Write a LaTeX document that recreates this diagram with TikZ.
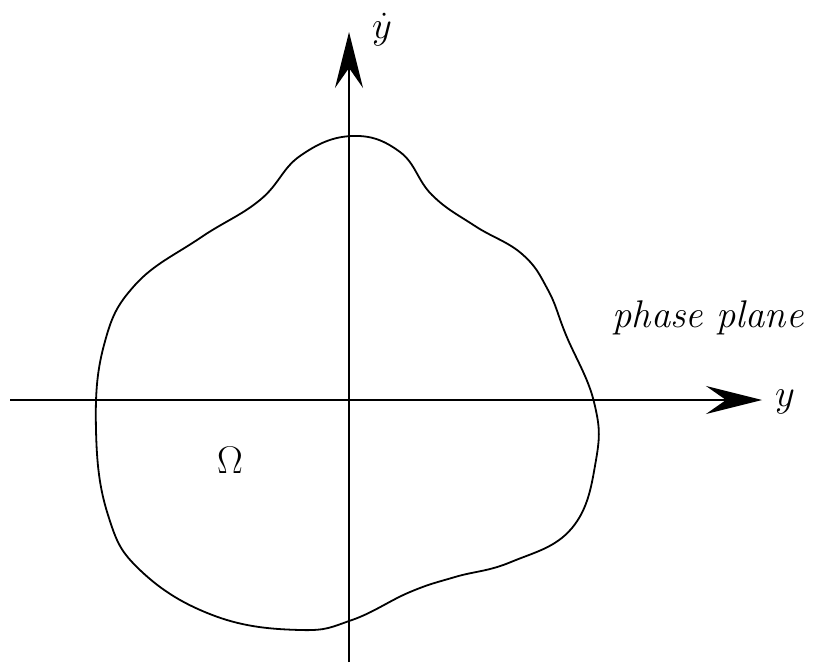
\documentclass[tikz,border=0pt]{standalone}
\usepackage{tikz}
\usetikzlibrary{arrows.meta}

\begin{document}
\begin{tikzpicture}[x=1pt, y=-1pt, line width=1.8pt,
    axis/.style={-{Stealth[length=56pt, width=28pt, inset=20pt]}},
    lbl/.style={font=\Huge\itshape, scale=1.55, inner sep=0pt}]
  \useasboundingbox (0,0) rectangle (813,668);
  \coordinate (xstart) at (10,400);
  \coordinate (xend)   at (762,400);
  \coordinate (ystart) at (349,662);
  \coordinate (yend)   at (349,32);
  \draw[axis] (xstart) -- (xend);
  \draw[axis] (ystart) -- (yend);
  \draw plot[smooth cycle, tension=0.7] coordinates {
    (352,136) (400,152) (432,195) (475,226) (522,254) (548,290)
    (566,335) (594,402) (596,460) (572,528) (511,562) (455,577)
    (410,592) (352,620) (300,630) (215,616) (141,571) (108,515)
    (96,430) (104,345) (135,285) (200,238) (260,200) (300,156)};
  \node[lbl] (ydot)   at (382,30)  {$\dot{y}$};
  \node[lbl] (ylabel) at (785,402) {$y$};
  \node[lbl] (phase)  at (708,318) {phase plane};
  \node[lbl] (omega)  at (230,460) {$\Omega$};
\end{tikzpicture}
\end{document}
